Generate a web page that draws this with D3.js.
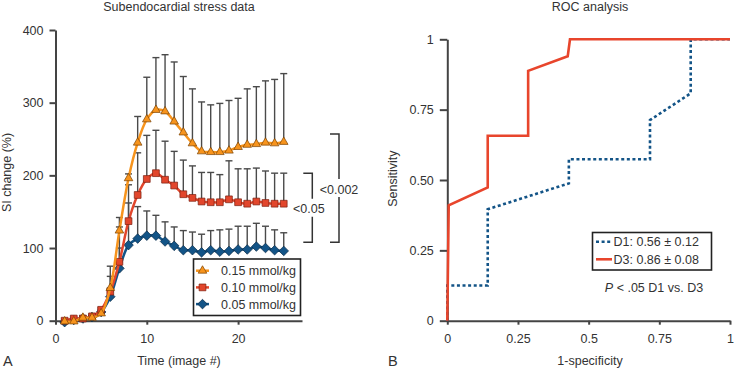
<!DOCTYPE html>
<html lang="en">
<head>
<meta charset="UTF-8"/>
<title>Subendocardial stress data / ROC analysis</title>
<style>
  * { margin: 0; padding: 0; }
  body { background: #fff; width: 734px; height: 369px; overflow: hidden; }
  svg { display: block; font-family: "Liberation Sans", Arial, sans-serif; }
  text { fill: #333; }
  .axis path, .axis line { stroke: #444; stroke-width: 2px; }
  .axis text { font-size: 12.5px; fill: #333; }
  .err { stroke: #4a4a4a; stroke-width: 1.4px; fill: none; }
</style>
</head>
<body>
<svg id="chart" width="734" height="369"></svg>
<script src="https://cdn.jsdelivr.net/npm/d3@7/dist/d3.min.js"></script>
<script>
// --- Panel A: SI change over time (mean + SD, upper bar only) ---
const imageNum = d3.range(1, 26)

const dose015 = [-1, -1, 4, 4, 10, 45, 124, 196, 245, 277, 290, 288, 274, 259, 244, 233, 232, 232, 234, 239, 242, 243, 245, 244, 246]
const sd015   = [3, 4, 3, 3, 5, 30, 18, 6, 36, 58, 72, 78, 82, 77, 75, 68, 65, 67, 69, 67, 77, 79, 85, 88, 94]

const dose010 = [0, 3, 3, 6, 15, 40, 81, 137, 173, 195, 203, 194, 186, 174, 169, 164, 163, 163, 167, 163, 161, 164, 162, 161, 161]
const sd010   = [2, 2, 3, 3, 3, 21, 48, 50, 58, 60, 59, 53, 47, 47, 44, 40, 41, 38, 53, 46, 48, 46, 44, 42, 42]

const dose005 = [-2, 1, 3, 5, 12, 33, 72, 104, 113, 117, 117, 109, 103, 97, 97, 94, 97, 95, 96, 98, 98, 102, 100, 97, 96]
const sd005   = [2, 2, 2, 3, 4, 12, 28, 58, 44, 34, 28, 27, 26, 27, 25, 25, 27, 30, 30, 32, 32, 32, 30, 28, 25]

const siTicks   = [0, 100, 200, 300, 400]
const timeTicks = [0, 10, 20]

// significance brackets (SI values at bracket ends)
const brackets = [
  { label: '<0.05',  top: 203, bottom: 108 },
  { label: '<0.002', top: 257, bottom: 108 },
]

// --- Panel B: ROC curves ---
const d1Fpr = [0, 0, 0.143, 0.143, 0.43, 0.43, 0.717, 0.717, 0.861, 0.861, 1]
const d1Tpr = [0, 0.125, 0.125, 0.396, 0.488, 0.574, 0.574, 0.713, 0.808, 1, 1]
const d3Fpr = [0, 0.005, 0.143, 0.143, 0.286, 0.286, 0.426, 0.434, 1]
const d3Tpr = [0, 0.41, 0.474, 0.657, 0.657, 0.888, 0.94, 1, 1]

const rocYTicks = [0, 0.25, 0.5, 0.75, 1]
const rocYLabels = ['0', '0.25', '0.50', '0.75', '1']
const rocXTicks = [0, 0.25, 0.5, 0.75, 1]

const ORANGE = '#f7941d'
const RED    = '#e2462c'
const BLUE   = '#135487'

const svg = d3.select('#chart')

// ===== Panel A =====
const xA = d3.scaleLinear().domain([0, 27]).range([55.5, 302])
const yA = d3.scaleLinear().domain([0, 400]).range([320.7, 30])

svg.append('g').attr('class', 'axis')
  .attr('transform', `translate(0,${yA(0)})`)
  .call(d3.axisBottom(xA).tickValues(timeTicks).tickSize(4).tickSizeOuter(0).tickPadding(9))

svg.append('g').attr('class', 'axis')
  .attr('transform', `translate(${xA(0)},0)`)
  .call(d3.axisLeft(yA).tickValues(siTicks).tickSize(6).tickSizeOuter(0).tickPadding(6))

const seriesA = [
  { name: '0.15 mmol/kg', mean: dose015, sd: sd015, color: ORANGE, stroke: '#7a4000', shape: 'triangle' },
  { name: '0.10 mmol/kg', mean: dose010, sd: sd010, color: RED,    stroke: '#7a2010', shape: 'square' },
  { name: '0.05 mmol/kg', mean: dose005, sd: sd005, color: BLUE,   stroke: '#0a2a45', shape: 'diamond' },
]

function markerPath(shape) {
  if (shape === 'triangle') return d3.symbol(d3.symbolTriangle, 32)()
  if (shape === 'square')   return d3.symbol(d3.symbolSquare, 46)()
  return 'M0,-4.8L4.8,0L0,4.8L-4.8,0Z'
}

// error bars (drawn first, behind the curves)
const errG = svg.append('g')
seriesA.forEach(s => {
  imageNum.forEach((t, i) => {
    const x = xA(t), y0 = yA(s.mean[i]), y1 = yA(s.mean[i] + s.sd[i])
    errG.append('line').attr('class', 'err').attr('x1', x).attr('x2', x).attr('y1', y0).attr('y2', y1)
    errG.append('line').attr('class', 'err').attr('x1', x - 3.5).attr('x2', x + 3.5).attr('y1', y1).attr('y2', y1)
  })
})

const lineA = d3.line().curve(d3.curveCatmullRom.alpha(0.5))
// draw low dose first so the 0.15 curve sits on top
seriesA.slice().reverse().forEach(s => {
  const pts = imageNum.map((t, i) => [xA(t), yA(s.mean[i])])
  svg.append('path').attr('d', lineA(pts))
    .attr('fill', 'none').attr('stroke', s.color).attr('stroke-width', 2.5)
  svg.append('g').selectAll('path').data(pts).join('path')
    .attr('transform', d => `translate(${d[0]},${d[1]})`)
    .attr('d', markerPath(s.shape))
    .attr('fill', s.color).attr('stroke', s.stroke).attr('stroke-width', 0.7)
})

// legend A
const legA = svg.append('g')
legA.append('rect').attr('x', 193.5).attr('y', 259).attr('width', 107).attr('height', 56.5)
  .attr('fill', '#fff').attr('stroke', '#222').attr('stroke-width', 1.6)
seriesA.forEach((s, i) => {
  const cy = 270.7 + i * 16.7
  legA.append('line').attr('x1', 196).attr('x2', 209).attr('y1', cy).attr('y2', cy)
    .attr('stroke', s.color).attr('stroke-width', 2.5)
  legA.append('path').attr('transform', `translate(202.5,${cy})`).attr('d', markerPath(s.shape))
    .attr('fill', s.color).attr('stroke', s.stroke).attr('stroke-width', 0.7)
  legA.append('text').attr('x', 221).attr('y', cy + 4.5).attr('font-size', 12.5).text(s.name)
})

// brackets
const bx = [312.3, 339]
const labelDx = [-3.5, 0]
brackets.forEach((b, i) => {
  const x = bx[i], yt = yA(b.top), yb = yA(b.bottom), ym = (yt + yb) / 2 + 1
  const g = svg.append('g').attr('stroke', '#333').attr('stroke-width', 1.5).attr('fill', 'none')
  g.append('path').attr('d', `M${x - 9},${yt}H${x}V${ym - 10}`)
  g.append('path').attr('d', `M${x},${ym + 8}V${yb}H${x - 9}`)
  svg.append('text').attr('x', x + labelDx[i]).attr('y', ym + 4.5)
    .attr('text-anchor', 'middle').attr('font-size', 12.5).text(b.label)
})

svg.append('text').attr('x', 179).attr('y', 11).attr('text-anchor', 'middle')
  .attr('font-size', 12.5).text('Subendocardial stress data')
svg.append('text').attr('x', 179).attr('y', 364.5).attr('text-anchor', 'middle')
  .attr('font-size', 12.5).text('Time (image #)')
svg.append('text').attr('transform', 'translate(11,172.5) rotate(-90)').attr('text-anchor', 'middle')
  .attr('font-size', 12.5).text('SI change (%)')
svg.append('text').attr('x', 3).attr('y', 366).attr('font-size', 14.5).text('A')

// ===== Panel B =====
const xB = d3.scaleLinear().domain([0, 1]).range([447.3, 730])
const yB = d3.scaleLinear().domain([0, 1]).range([320.7, 39.3])

svg.append('g').attr('class', 'axis')
  .attr('transform', `translate(0,${yB(0)})`)
  .call(d3.axisBottom(xB).tickValues(rocXTicks).tickFormat(d3.format('')).tickSize(4).tickSizeOuter(0).tickPadding(9))

svg.append('g').attr('class', 'axis')
  .attr('transform', `translate(${xB(0)},0)`)
  .call(d3.axisLeft(yB).tickValues(rocYTicks).tickFormat((d, i) => rocYLabels[i]).tickSize(7.5).tickSizeOuter(0).tickPadding(6))

const lineB = d3.line().x(d => xB(d[0])).y(d => yB(d[1]))
svg.append('path').attr('d', lineB(d1Fpr.map((f, i) => [f, d1Tpr[i]])))
  .attr('fill', 'none').attr('stroke', BLUE).attr('stroke-width', 2.6).attr('stroke-dasharray', '3,2.6')
svg.append('path').attr('d', lineB(d3Fpr.map((f, i) => [f, d3Tpr[i]])))
  .attr('fill', 'none').attr('stroke', '#e8452c').attr('stroke-width', 2.6)

// legend B
const legB = svg.append('g')
legB.append('rect').attr('x', 592.5).attr('y', 232.5).attr('width', 119).attr('height', 37.5)
  .attr('fill', '#fff').attr('stroke', '#222').attr('stroke-width', 1.6)
const legBItems = [
  { text: 'D1: 0.56 ± 0.12', color: BLUE, dash: '3,2.6' },
  { text: 'D3: 0.86 ± 0.08', color: '#e8452c', dash: null },
]
legBItems.forEach((d, i) => {
  const cy = 241.7 + i * 17.6
  legB.append('line').attr('x1', 596).attr('x2', 612).attr('y1', cy).attr('y2', cy)
    .attr('stroke', d.color).attr('stroke-width', 2.6).attr('stroke-dasharray', d.dash)
  legB.append('text').attr('x', 613.5).attr('y', cy + 4.5).attr('font-size', 12.5).text(d.text)
})

const pText = svg.append('text').attr('x', 654).attr('y', 291.7).attr('text-anchor', 'middle').attr('font-size', 12.5)
pText.append('tspan').attr('font-style', 'italic').text('P')
pText.append('tspan').text(' < .05 D1 vs. D3')

svg.append('text').attr('x', 590).attr('y', 11).attr('text-anchor', 'middle')
  .attr('font-size', 12.5).text('ROC analysis')
svg.append('text').attr('x', 590).attr('y', 365).attr('text-anchor', 'middle')
  .attr('font-size', 12.5).text('1-specificity')
svg.append('text').attr('transform', 'translate(397.3,178.7) rotate(-90)').attr('text-anchor', 'middle')
  .attr('font-size', 12.5).text('Sensitivity')
svg.append('text').attr('x', 388).attr('y', 366).attr('font-size', 14.5).text('B')
</script>
</body>
</html>
